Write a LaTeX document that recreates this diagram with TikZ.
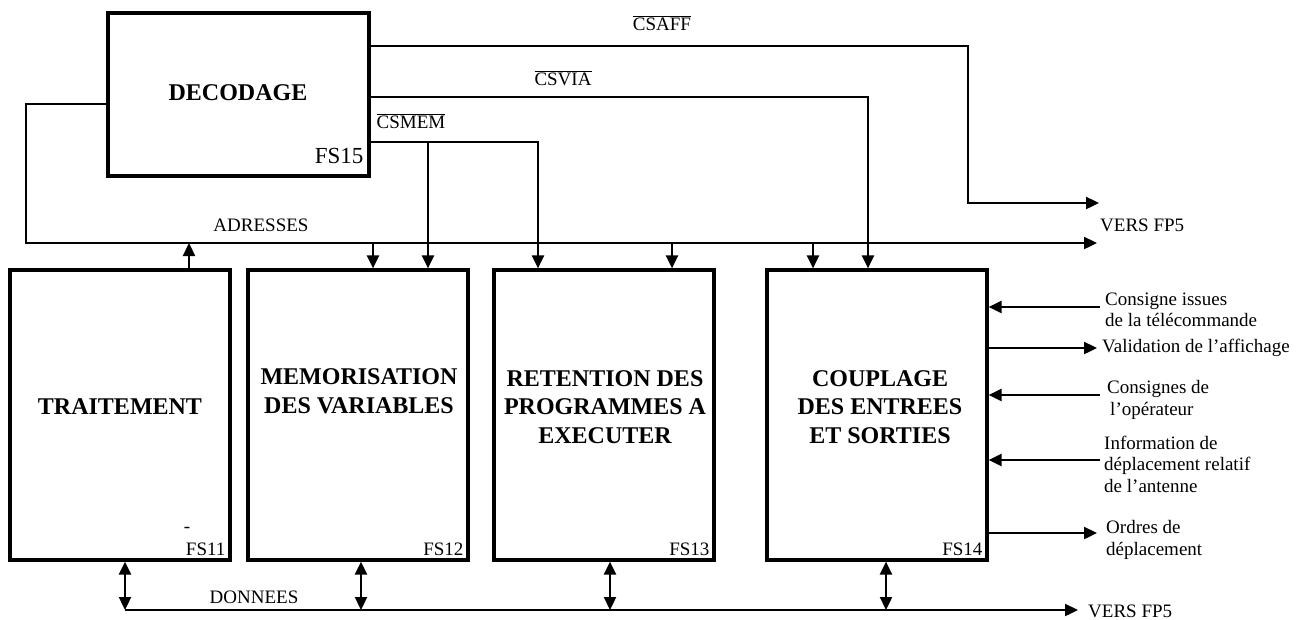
\documentclass[tikz,border=0pt]{standalone}
\usepackage{fontspec}
\setmainfont{Liberation Serif}
\usetikzlibrary{arrows.meta}
\newcommand\ovl[1]{$\overline{\mbox{#1}}$}
\begin{document}
\begin{tikzpicture}[x=1pt,y=-1pt,
 box/.style={draw,line width=3.2pt,minimum width=220pt,minimum height=290pt,inner sep=0pt},
 btext/.style={font=\fontsize{24}{28.5}\selectfont\bfseries,align=center,inner sep=0pt},
 conn/.style={line width=2.3pt},
 arr/.style={conn,-{Triangle[length=13pt,width=12pt]}},
 darr/.style={conn,{Triangle[length=13pt,width=12pt]}-{Triangle[length=13pt,width=12pt]}},
 lbl/.style={font=\fontsize{19}{21.5}\selectfont,inner sep=0pt},
 rlbl/.style={lbl,anchor=west,align=left},
 fs/.style={font=\fontsize{19}{21.5}\selectfont,inner sep=0pt,anchor=base east}]
\useasboundingbox (0,0) rectangle (1305,619);
% boxes
\node[box,minimum width=261pt,minimum height=163pt] (dec) at (238.5,94.5) {};
\node[btext] (tdec) at (238,93) {DECODAGE};
\node[box] (b1) at (120,415) {};
\node[box] (b2) at (358,415) {};
\node[box] (b3) at (604,415) {};
\node[box] (b4) at (877,415) {};
\node[btext] (t1) at (120,407) {TRAITEMENT};
\node[btext] (t2) at (359,391) {MEMORISATION\\DES VARIABLES};
\node[btext] (t3) at (605,407) {RETENTION DES\\PROGRAMMES A\\EXECUTER};
\node[btext] (t4) at (880,407) {COUPLAGE\\DES ENTREES\\ET SORTIES};
% FS labels
\node[fs,font=\fontsize{23}{26}\selectfont] (f15) at ([shift={(-7,-14)}]dec.south east) {FS15};
\node[fs] (f11) at ([shift={(-6,-6)}]b1.south east) {FS11};
\node[fs] (f12) at ([shift={(-6,-6)}]b2.south east) {FS12};
\node[fs] (f13) at ([shift={(-6,-6)}]b3.south east) {FS13};
\node[fs] (f14) at ([shift={(-6,-6)}]b4.south east) {FS14};
\node[lbl] (dash) at (187,530) {-};
% coordinates
\coordinate (dl) at (26,104);
\coordinate (adrL) at (26,243);
\coordinate (adrR) at (1097,243);
\coordinate (caf1) at (968,46);
\coordinate (caf2) at (968,203);
\coordinate (cafE) at (1099,203);
\coordinate (cv) at (868,97);
\coordinate (cm) at (538,142);
\coordinate (cmb) at (428,142);
\coordinate (u1) at (189,243);
\coordinate (d2) at (373,243);
\coordinate (d3) at (672,243);
\coordinate (d4) at (813,243);
\coordinate (dL) at (125,610);
\coordinate (dR) at (1078,610);
\coordinate (v1) at (125,610);
\coordinate (v2) at (361,610);
\coordinate (v3) at (610,610);
\coordinate (v4) at (886,610);
\coordinate (r1) at (1100,307);
\coordinate (r2) at (1097,348);
\coordinate (r3) at (1100,395);
\coordinate (r4) at (1100,460);
\coordinate (r5) at (1097,533);
% address bus
\draw[arr] (dl -| dec.west) -- (dl) -- (adrL) -- (adrR);
\draw[arr] (u1 |- b1.north) -- (u1);
\draw[arr] (d2) -- (d2 |- b2.north);
\draw[arr] (d3) -- (d3 |- b3.north);
\draw[arr] (d4) -- (d4 |- b4.north);
% chip selects
\draw[arr] (caf1 -| dec.east) -- (caf1) -- (caf2) -- (cafE);
\draw[arr] (cv -| dec.east) -- (cv) -- (cv |- b4.north);
\draw[arr] (cm -| dec.east) -- (cm) -- (cm |- b3.north);
\draw[arr] (cmb) -- (cmb |- b2.north);
% data bus
\draw[arr] (dL) -- (dR);
\draw[darr] (v1 |- b1.south) -- (v1);
\draw[darr] (v2 |- b2.south) -- (v2);
\draw[darr] (v3 |- b3.south) -- (v3);
\draw[darr] (v4 |- b4.south) -- (v4);
% right side
\draw[arr] (r1) -- (r1 -| b4.east);
\draw[arr] (r2 -| b4.east) -- (r2);
\draw[arr] (r3) -- (r3 -| b4.east);
\draw[arr] (r4) -- (r4 -| b4.east);
\draw[arr] (r5 -| b4.east) -- (r5);
% labels
\node[lbl] (lcaff) at (662,23) {\ovl{CSAFF}};
\node[lbl] (lcsvia) at (563,78) {\ovl{CSVIA}};
\node[lbl] (lcsmem) at (411,121) {\ovl{CSMEM}};
\node[lbl] (ladr) at (261,225) {ADRESSES};
\node[lbl] (ldon) at (254,597) {DONNEES};
\node[lbl,anchor=west] (lv1) at (1100,225) {VERS FP5};
\node[lbl,anchor=west] (lv2) at (1088,611) {VERS FP5};
\node[rlbl] (lr1) at (1105,310) {Consigne issues\\de la télécommande};
\node[rlbl] (lr2) at (1102,348) {Validation de l’affichage};
\node[rlbl] (lr3) at (1107,400) {Consignes de\\\hspace{3pt}l’opérateur};
\node[rlbl] (lr4) at (1104,464) {Information de\\déplacement relatif\\de l’antenne};
\node[rlbl] (lr5) at (1106,540) {Ordres de\\déplacement};
\end{tikzpicture}
\end{document}
